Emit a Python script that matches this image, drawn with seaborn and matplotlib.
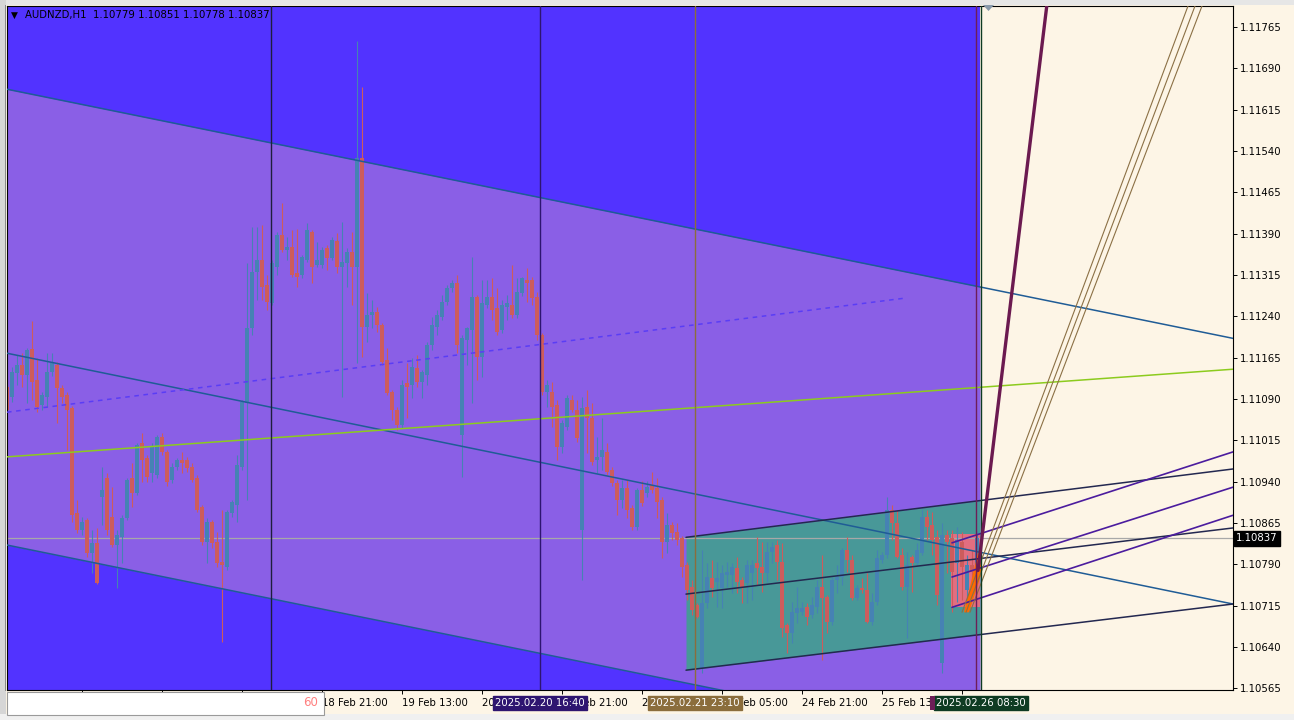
import numpy as np
import pandas as pd
import matplotlib
matplotlib.use("Agg")
import matplotlib.pyplot as plt
import matplotlib.transforms as mtrans
from matplotlib.patches import Rectangle, Polygon
import seaborn as sns

# ---- AUDNZD H1 candles, bar 0 = leftmost visible bar, bar 194 = 26 Feb 08:00 ----
opens = [1.11112, 1.11093, 1.11137, 1.11151, 1.11133, 1.11181, 1.11124, 1.11079, 1.11093, 1.11139,
         1.11151, 1.11110, 1.11097, 1.11073, 1.10883, 1.10852, 1.10870, 1.10810, 1.10828, 1.10912,
         1.10946, 1.10876, 1.10825, 1.10839, 1.10874, 1.10946, 1.10919, 1.11010, 1.10983, 1.10956,
         1.10952, 1.11021, 1.10994, 1.10943, 1.10966, 1.10979, 1.10979, 1.10966, 1.10946, 1.10894,
         1.10830, 1.10867, 1.10830, 1.10794, 1.10785, 1.10883, 1.10897, 1.10966, 1.11083, 1.11219,
         1.11320, 1.11342, 1.11297, 1.11264, 1.11329, 1.11387, 1.11360, 1.11366, 1.11318, 1.11315,
         1.11342, 1.11393, 1.11333, 1.11333, 1.11364, 1.11346, 1.11377, 1.11329, 1.11337, 1.11357,
         1.11329, 1.11527, 1.11220, 1.11242, 1.11248, 1.11224, 1.11161, 1.11103, 1.11070, 1.11043,
         1.11119, 1.11115, 1.11146, 1.11121, 1.11133, 1.11188, 1.11220, 1.11239, 1.11266, 1.11291,
         1.11300, 1.11024, 1.11197, 1.11215, 1.11275, 1.11166, 1.11260, 1.11275, 1.11255, 1.11215,
         1.11257, 1.11260, 1.11242, 1.11282, 1.11306, 1.11306, 1.11275, 1.11206, 1.11103, 1.11103,
         1.11079, 1.11003, 1.11039, 1.11088, 1.11070, 1.10852, 1.11075, 1.11055, 1.10979, 1.10984,
         1.10994, 1.10961, 1.10937, 1.10906, 1.10928, 1.10892, 1.10857, 1.10925, 1.10919, 1.10934,
         1.10928, 1.10906, 1.10830, 1.10861, 1.10848, 1.10838, 1.10789, 1.10749, 1.10716, 1.10602,
         1.10720, 1.10765, 1.10758, 1.10747, 1.10770, 1.10770, 1.10783, 1.10761, 1.10756, 1.10774,
         1.10792, 1.10785, 1.10774, 1.10812, 1.10825, 1.10794, 1.10680, 1.10665, 1.10701, 1.10703,
         1.10712, 1.10698, 1.10712, 1.10749, 1.10730, 1.10685, 1.10761, 1.10767, 1.10816, 1.10798,
         1.10729, 1.10747, 1.10743, 1.10685, 1.10721, 1.10798, 1.10807, 1.10888, 1.10865, 1.10807,
         1.10749, 1.10803, 1.10792, 1.10810, 1.10876, 1.10861, 1.10839, 1.10611, 1.10843, 1.10838,
         1.10792, 1.10830, 1.10743, 1.10789, 1.10779]
highs = [1.11124, 1.11148, 1.11170, 1.11173, 1.11182, 1.11231, 1.11164, 1.11103, 1.11173, 1.11173,
         1.11157, 1.11115, 1.11103, 1.11077, 1.10906, 1.10876, 1.10874, 1.10852, 1.10856, 1.10966,
         1.10956, 1.10930, 1.10852, 1.10879, 1.10946, 1.10974, 1.11010, 1.11028, 1.10988, 1.11010,
         1.11024, 1.11028, 1.10997, 1.10974, 1.10983, 1.10994, 1.10984, 1.10974, 1.10952, 1.10897,
         1.10874, 1.10870, 1.10848, 1.10888, 1.10888, 1.10906, 1.10988, 1.11088, 1.11337, 1.11402,
         1.11402, 1.11406, 1.11315, 1.11342, 1.11393, 1.11446, 1.11384, 1.11397, 1.11398, 1.11351,
         1.11409, 1.11397, 1.11375, 1.11366, 1.11369, 1.11384, 1.11391, 1.11411, 1.11364, 1.11393,
         1.11740, 1.11656, 1.11282, 1.11270, 1.11257, 1.11228, 1.11182, 1.11106, 1.11075, 1.11124,
         1.11155, 1.11164, 1.11170, 1.11142, 1.11193, 1.11239, 1.11251, 1.11279, 1.11297, 1.11306,
         1.11315, 1.11206, 1.11221, 1.11347, 1.11279, 1.11306, 1.11306, 1.11309, 1.11291, 1.11270,
         1.11279, 1.11333, 1.11309, 1.11311, 1.11328, 1.11311, 1.11284, 1.11210, 1.11124, 1.11121,
         1.11088, 1.11052, 1.11097, 1.11097, 1.11088, 1.11093, 1.11106, 1.11083, 1.11021, 1.11055,
         1.11010, 1.10966, 1.10943, 1.10943, 1.10943, 1.10897, 1.10928, 1.10941, 1.10941, 1.10957,
         1.10946, 1.10912, 1.10883, 1.10867, 1.10865, 1.10841, 1.10794, 1.10761, 1.10720, 1.10816,
         1.10792, 1.10798, 1.10794, 1.10789, 1.10794, 1.10792, 1.10803, 1.10767, 1.10798, 1.10798,
         1.10839, 1.10830, 1.10830, 1.10830, 1.10834, 1.10828, 1.10683, 1.10721, 1.10749, 1.10721,
         1.10720, 1.10730, 1.10761, 1.10807, 1.10734, 1.10767, 1.10789, 1.10819, 1.10839, 1.10807,
         1.10752, 1.10765, 1.10774, 1.10738, 1.10816, 1.10812, 1.10912, 1.10897, 1.10888, 1.10819,
         1.10812, 1.10807, 1.10828, 1.10888, 1.10888, 1.10885, 1.10852, 1.10865, 1.10852, 1.10852,
         1.10857, 1.10848, 1.10807, 1.10816, 1.10851]
lows = [1.11066, 1.11084, 1.11115, 1.11112, 1.11083, 1.11088, 1.11066, 1.11070, 1.11075, 1.11132,
        1.11046, 1.11083, 1.10997, 1.10867, 1.10847, 1.10843, 1.10803, 1.10774, 1.10754, 1.10861,
        1.10843, 1.10821, 1.10747, 1.10792, 1.10870, 1.10894, 1.10915, 1.10939, 1.10939, 1.10939,
        1.10946, 1.10988, 1.10933, 1.10937, 1.10961, 1.10956, 1.10958, 1.10939, 1.10885, 1.10825,
        1.10792, 1.10819, 1.10786, 1.10649, 1.10779, 1.10876, 1.10867, 1.10961, 1.10906, 1.11206,
        1.11270, 1.11270, 1.11251, 1.11260, 1.11315, 1.11357, 1.11342, 1.11311, 1.11293, 1.11309,
        1.11338, 1.11300, 1.11329, 1.11328, 1.11324, 1.11342, 1.11318, 1.11093, 1.11293, 1.11260,
        1.11155, 1.11166, 1.11193, 1.11219, 1.11211, 1.11151, 1.11097, 1.11052, 1.11034, 1.11037,
        1.11055, 1.11092, 1.11112, 1.11092, 1.11115, 1.11179, 1.11206, 1.11233, 1.11260, 1.11284,
        1.11173, 1.10948, 1.11151, 1.11083, 1.11124, 1.11130, 1.11255, 1.11233, 1.11206, 1.11209,
        1.11233, 1.11237, 1.11237, 1.11277, 1.11266, 1.11260, 1.11197, 1.11097, 1.11075, 1.11039,
        1.10979, 1.10992, 1.11034, 1.11066, 1.11012, 1.10761, 1.10992, 1.10970, 1.10956, 1.10961,
        1.10952, 1.10933, 1.10879, 1.10892, 1.10874, 1.10852, 1.10852, 1.10896, 1.10912, 1.10919,
        1.10874, 1.10801, 1.10810, 1.10834, 1.10825, 1.10767, 1.10725, 1.10698, 1.10692, 1.10593,
        1.10711, 1.10730, 1.10712, 1.10711, 1.10749, 1.10738, 1.10738, 1.10720, 1.10720, 1.10725,
        1.10752, 1.10740, 1.10758, 1.10792, 1.10761, 1.10658, 1.10629, 1.10647, 1.10683, 1.10698,
        1.10680, 1.10692, 1.10701, 1.10616, 1.10665, 1.10680, 1.10738, 1.10752, 1.10776, 1.10725,
        1.10725, 1.10738, 1.10683, 1.10680, 1.10716, 1.10792, 1.10801, 1.10834, 1.10801, 1.10743,
        1.10656, 1.10740, 1.10789, 1.10807, 1.10834, 1.10807, 1.10716, 1.10593, 1.10774, 1.10703,
        1.10721, 1.10725, 1.10725, 1.10752, 1.10778]
closes = [1.11070, 1.11139, 1.11151, 1.11133, 1.11179, 1.11121, 1.11075, 1.11097, 1.11139, 1.11155,
          1.11110, 1.11093, 1.11070, 1.10879, 1.10852, 1.10867, 1.10810, 1.10828, 1.10756, 1.10925,
          1.10852, 1.10825, 1.10843, 1.10874, 1.10943, 1.10919, 1.11006, 1.10979, 1.10948, 1.11003,
          1.11021, 1.10994, 1.10939, 1.10966, 1.10979, 1.10974, 1.10965, 1.10943, 1.10888, 1.10830,
          1.10867, 1.10828, 1.10792, 1.10789, 1.10885, 1.10903, 1.10970, 1.11084, 1.11219, 1.11320,
          1.11342, 1.11293, 1.11266, 1.11337, 1.11387, 1.11360, 1.11366, 1.11315, 1.11311, 1.11347,
          1.11397, 1.11329, 1.11342, 1.11360, 1.11346, 1.11378, 1.11329, 1.11338, 1.11357, 1.11329,
          1.11527, 1.11220, 1.11242, 1.11248, 1.11224, 1.11157, 1.11101, 1.11070, 1.11043, 1.11115,
          1.11112, 1.11148, 1.11121, 1.11139, 1.11188, 1.11224, 1.11242, 1.11266, 1.11291, 1.11300,
          1.11188, 1.11200, 1.11219, 1.11275, 1.11166, 1.11264, 1.11275, 1.11251, 1.11211, 1.11260,
          1.11264, 1.11242, 1.11284, 1.11309, 1.11300, 1.11273, 1.11206, 1.11103, 1.11115, 1.11075,
          1.11003, 1.11046, 1.11092, 1.11070, 1.11019, 1.11073, 1.11055, 1.10975, 1.10984, 1.10997,
          1.10958, 1.10937, 1.10906, 1.10928, 1.10888, 1.10857, 1.10925, 1.10901, 1.10930, 1.10925,
          1.10903, 1.10830, 1.10861, 1.10847, 1.10834, 1.10785, 1.10743, 1.10707, 1.10694, 1.10720,
          1.10767, 1.10747, 1.10765, 1.10774, 1.10776, 1.10785, 1.10758, 1.10747, 1.10789, 1.10789,
          1.10783, 1.10774, 1.10812, 1.10821, 1.10794, 1.10674, 1.10665, 1.10703, 1.10711, 1.10711,
          1.10694, 1.10716, 1.10749, 1.10729, 1.10685, 1.10761, 1.10767, 1.10816, 1.10798, 1.10729,
          1.10747, 1.10743, 1.10685, 1.10721, 1.10801, 1.10807, 1.10888, 1.10865, 1.10803, 1.10749,
          1.10789, 1.10792, 1.10816, 1.10876, 1.10857, 1.10834, 1.10734, 1.10843, 1.10830, 1.10776,
          1.10834, 1.10785, 1.10789, 1.10776, 1.10837]

# time axis (bar index of each tick) and price axis
time_tick_bars = [15, 31, 47, 63, 79, 95, 111, 127, 143, 159, 175, 191]
time_tick_labels = ["", "", "", "18 Feb 21:00", "19 Feb 13:00", "20 Feb 05:00", "20 Feb 21:00",
                    "21 Feb 13:00", "24 Feb 05:00", "24 Feb 21:00", "25 Feb 13:00", ""]
price_ticks = [1.10565, 1.10640, 1.10715, 1.10790, 1.10865, 1.10940, 1.11015, 1.11090, 1.11165,
               1.11240, 1.11315, 1.11390, 1.11465, 1.11540, 1.11615, 1.11690, 1.11765]

# ---- chart objects, as (bar, price) anchor points ----
chan_upper_bars, chan_upper_prices = [0, 245.2], [1.11652, 1.11200]
chan_mid_bars, chan_mid_prices = [0, 245.2], [1.11173, 1.10718]
chan_lower_bars, chan_lower_prices = [0, 245.2], [1.10825, 1.10373]
dash_bars, dash_prices = [0, 179.6], [1.11066, 1.11273]
green_bars, green_prices = [0, 245.2], [1.10985, 1.11144]
box_top_bars, box_top_prices = [135.8, 245.2], [1.10839, 1.10963]
box_mid_bars, box_mid_prices = [135.8, 245.2], [1.10736, 1.10856]
box_bot_bars, box_bot_prices = [135.8, 245.2], [1.10598, 1.10718]
fan_start_bar = 189.0
fan_end_bar = 245.2
fan_start_prices = [1.10829, 1.10767, 1.10712]
fan_end_prices = [1.10994, 1.10930, 1.10879]
brown_start_bars = [191.0, 191.8, 192.6]
brown_end_bars = [236.2, 237.6, 239.0]
brown_start_price, brown_end_price = 1.10703, 1.11803
ray_bars, ray_prices = [194.2, 208.1], [1.10779, 1.11814]
zone_bars, zone_prices = [188.8, 194.6], [1.10712, 1.10845]
wedge_bars = [191.4, 194.2, 195.0, 195.0, 192.4]
wedge_prices = [1.10703, 1.10812, 1.10825, 1.10776, 1.10703]
shade_end_bar = 194.6
vline_bars = [52.8, 106.6, 137.6, 193.8, 194.8]
vline_labels = [None, "2025.02.20 16:40", "2025.02.21 23:10", None, "2025.02.26 08:30"]
vline_colors = ["#1E1E3C", "#2E1570", "#8B6D3C", "#6E1E58", "#0E3B22"]

BG = "#FDF5E6"
BLUE_RECT = "#5233FF"
PURPLE = "#8A5FE6"
TEAL = "#489898"
PINK = "#E26E80"
BULL = "#4682B4"
BEAR = "#CD5C5C"

sns.set_style("white")
plt.rcParams["font.family"] = ["DejaVu Sans"]
FS = 7.3

W, H = 1294, 720
fig = plt.figure(figsize=(W / 100, H / 100), dpi=100, facecolor=BG)
ax = fig.add_axes([7 / W, 30 / H, 1226 / W, 684 / H])
ax.set_facecolor(BG)

# background objects
ax.axvspan(-2, shade_end_bar, color=BLUE_RECT, lw=0, zorder=0.5)
t = np.array([-2, shade_end_bar])
slope_u = (chan_upper_prices[1] - chan_upper_prices[0]) / (chan_upper_bars[1] - chan_upper_bars[0])
slope_l = (chan_lower_prices[1] - chan_lower_prices[0]) / (chan_lower_bars[1] - chan_lower_bars[0])
ax.fill_between(t, chan_lower_prices[0] + t * slope_l, chan_upper_prices[0] + t * slope_u,
                color=PURPLE, lw=0, zorder=0.6)
tb = np.array([box_top_bars[0], shade_end_bar])
ax.fill_between(tb, np.interp(tb, box_bot_bars, box_bot_prices), np.interp(tb, box_top_bars, box_top_prices),
                color=TEAL, lw=0, zorder=0.7)
ax.add_patch(Rectangle((zone_bars[0], zone_prices[0]), zone_bars[1] - zone_bars[0],
                       zone_prices[1] - zone_prices[0], color=PINK, lw=0, zorder=0.8))

# bid line
ax.axhline(closes[-1], color="#A8A8A8", lw=0.9, zorder=1.5)

# candles: thin wicks, ~3.5 px bodies
bars = np.arange(len(closes))
o, h, l, c = map(np.array, (opens, highs, lows, closes))
up = c >= o
cols = np.where(up, BULL, BEAR)
ax.vlines(bars, l, h, colors=cols, lw=0.8, zorder=2)
body = c - o
body = np.where(np.abs(body) < 1.6e-5, np.where(up, 1.6e-5, -1.6e-5), body)
ax.bar(bars, body, bottom=o, width=0.7, color=cols, lw=0, zorder=2.1)


def trend(xs, ys, color, lw, ls="-", z=3):
    d = pd.DataFrame({"bar": xs, "price": ys})
    sns.lineplot(data=d, x="bar", y="price", color=color, linewidth=lw, linestyle=ls,
                 estimator=None, sort=False, ax=ax, zorder=z)


CH = "#1F5C96"
trend(chan_upper_bars, chan_upper_prices, CH, 1.1)
trend(chan_mid_bars, chan_mid_prices, CH, 1.1)
trend([0, shade_end_bar], np.interp([0, shade_end_bar], chan_lower_bars, chan_lower_prices), CH, 1.1)
trend(dash_bars, dash_prices, "#5A3DF5", 1.1, (0, (3, 3)))
trend(green_bars, green_prices, "#8CCB1E", 1.1)
NAVY = "#232850"
trend(box_top_bars, box_top_prices, NAVY, 1.1)
trend(box_mid_bars, box_mid_prices, NAVY, 1.1)
trend(box_bot_bars, box_bot_prices, NAVY, 1.1)
for p0, p1 in zip(fan_start_prices, fan_end_prices):
    trend([fan_start_bar, fan_end_bar], [p0, p1], "#4B1C9E", 1.2)
for b0, b1 in zip(brown_start_bars, brown_end_bars):
    trend([b0, b1], [brown_start_price, brown_end_price], "#8B7045", 0.8)
ax.add_patch(Polygon(list(zip(wedge_bars, wedge_prices)), closed=True, color="#FF6A00", lw=0, zorder=2.6))
trend(ray_bars, ray_prices, "#6B1A50", 2.4, z=3.2)

for b, col in zip(vline_bars, vline_colors):
    ax.axvline(b, color=col, lw=1.0, zorder=3.1)

# axes
ax.set_xlim(0, 245.2)
ax.set_ylim(1.10562, 1.11803)
ax.set_xlabel("")
ax.set_ylabel("")
ax.yaxis.tick_right()
ax.set_yticks(price_ticks, labels=[f"{p:.5f}" for p in price_ticks])
ax.set_xticks(time_tick_bars, labels=time_tick_labels)
shift = mtrans.ScaledTranslation(5 / 100, 0, fig.dpi_scale_trans)
for lbl in ax.get_xticklabels():
    lbl.set_ha("left")
    lbl.set_transform(lbl.get_transform() + shift)
ax.tick_params(axis="both", direction="out", length=3, width=0.7, colors="black", labelsize=FS)
ax.tick_params(axis="y", pad=2, left=False, right=True)
ax.tick_params(axis="x", pad=3, top=False, bottom=True)
for sp in ax.spines.values():
    sp.set_color("black")
    sp.set_linewidth(0.8)

# current price tag
ax.text(1.0025, closes[-1], f"{closes[-1]:.5f}", transform=mtrans.blended_transform_factory(ax.transAxes, ax.transData),
        ha="left", va="center", fontsize=FS, color="white",
        bbox=dict(boxstyle="square,pad=0.22", fc="black", ec="black"), zorder=6)

# vertical line date tags
tr = mtrans.blended_transform_factory(ax.transData, fig.transFigure)
for b, lab, col in zip(vline_bars, vline_labels, vline_colors):
    if lab:
        ax.text(b, 1 - 703 / H, lab, transform=tr, ha="center", va="center", fontsize=FS, color="white",
                bbox=dict(boxstyle="square,pad=0.22", fc=col, ec=col), zorder=6, clip_on=False)


def px_rect(x, y, w, h, **kw):
    r = Rectangle((x / W, 1 - (y + h) / H), w / W, h / H, transform=fig.transFigure, **kw)
    fig.add_artist(r)


# maroon tag peeking out from under the green one
px_rect(930, 696, 5, 14, fc=vline_colors[3], ec="none", zorder=4)

# window chrome
px_rect(0, 0, W, 5, fc="#E6E6E6", ec="none", zorder=5)
px_rect(0, 0, 6, H, fc="#D6D6D6", ec="none", zorder=5)
px_rect(5, 5, 1, 686, fc="#8A8A8A", ec="none", zorder=5)
px_rect(0, 714, W, 6, fc="#F0F0F0", ec="none", zorder=5)
px_rect(7, 692, 317, 23, fc="white", ec="#9A9A9A", lw=0.8, zorder=6)
fig.text(318 / W, 1 - 703 / H, "60", ha="right", va="center", fontsize=8.5, color="#FF8080", zorder=7)
fig.add_artist(Polygon([(983 / W, 1 - 5 / H), (994 / W, 1 - 5 / H), (988.5 / W, 1 - 11 / H)],
                       closed=True, transform=fig.transFigure, fc="#8899AA", ec="none", zorder=6))

# symbol header
fig.text(11 / W, 1 - 15 / H, "\u25BC", ha="left", va="center", fontsize=6.5, color="black", zorder=7)
fig.text(25 / W, 1 - 15 / H, "AUDNZD,H1  %.5f %.5f %.5f %.5f" % (opens[-1], highs[-1], lows[-1], closes[-1]),
         ha="left", va="center", fontsize=FS, color="black", zorder=7)

fig.savefig("out.png", dpi=100, facecolor=BG)
